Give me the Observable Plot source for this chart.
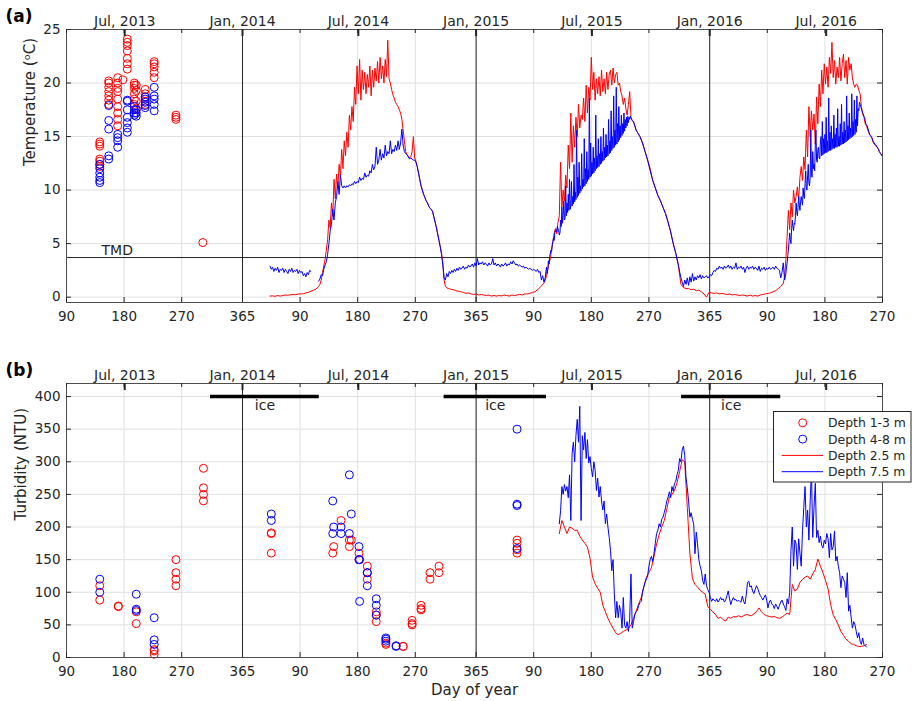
<!DOCTYPE html>
<html><head><meta charset="utf-8">
<script src="https://cdn.jsdelivr.net/npm/d3@7"></script>
<script src="https://cdn.jsdelivr.net/npm/@observablehq/plot@0.6"></script>
<style>
body{margin:0;background:#fff;font-family:"DejaVu Sans",sans-serif;}
#wrap{position:relative;width:913px;height:701px;overflow:hidden;}
#wrap svg{display:block;}
</style></head><body><div id="wrap"></div>
<script>
// ---------- axis ticks (continuous day index: 2013 day d -> d, 2014 -> 365+d, 2015 -> 730+d, 2016 -> 1095+d)
const xTickDays = [90,180,270,365,455,545,635,730,820,910,1000,1095,1185,1275,1365];
const xTickLabels = ["90","180","270","365","90","180","270","365","90","180","270","365","90","180","270"];
const topTickDays = [181,365,546,730,911,1095,1277];
const topTickLabels = ["Jul, 2013","Jan, 2014","Jul, 2014","Jan, 2015","Jul, 2015","Jan, 2016","Jul, 2016"];
const yearStartDays = [365,730,1095];
const tempTicks = [0,5,10,15,20,25];
const turbTicks = [0,50,100,150,200,250,300,350,400];
const tmdTemp = 3.7;
const iceStartDays = [315,680,1051];
const iceEndDays = [485,840,1206];
const iceLevel = 400;
const legendLabels = ["Depth 1-3 m","Depth 4-8 m","Depth 2.5 m","Depth 7.5 m"];

// ---------- panel (a) discrete samples
const tempSampleDays = [142,156,170,178,185,196,199,213,227,261,303];
const tempShallowSamples = [
  [14.5,14.3,14.1,12.9,12.7,12.4,12.2],
  [20.2,20.0,19.6,19.2,18.8,18.4,18.0],
  [20.5,20.0,19.5,19.2,18.5,17.8,17.2,16.6,16.0],
  [20.3],
  [24.1,23.8,23.5,23.0,22.3,21.8,21.3],
  [20.0,19.8,19.5,19.0,18.5,18.0],
  [19.8,19.3,18.3,17.6],
  [19.4,19.0,18.7,18.3,18.0],
  [22.0,21.8,21.5,21.0,20.5],
  [17.0,16.8,16.6],
  [5.1]
];
const tempDeepSamples = [
  [12.4,12.0,11.6,11.2,10.9,10.7],
  [17.9,16.5,15.7,13.2,12.9],
  [15.2,14.9,14.6,14.0],
  [],
  [18.4,18.3,17.5,16.8,16.3,15.8,15.4],
  [17.8,17.5,17.2,17.0],
  [17.5,17.2,16.9],
  [18.7,18.5,18.2,17.9,17.7],
  [19.6,18.8,18.5,18.0,17.4],
  [],
  []
];

// ---------- panel (a) logger series, 2.5 m (shallow)
const tempShallowWinter14 = [0.1,0.12,0.08,0.15,0.1,0.15,0.2,0.18,0.22,0.25,0.22,0.3,0.3,0.32,0.4,0.45,0.55,0.65,0.75,1.0];
const tempShallowSummer14 = [1.2,1.6,2.3,2.9,3.5,4.4,5.4,7.2,6.5,8.8,7.6,11.0,9.2,11.5,10.2,12.4,11.3,13.8,12.0,14.6,13.2,15.4,14.0,17.0,15.6,17.8,16.4,19.6,18.0,21.6,19.0,22.2,18.4,21.2,19.4,21.0,19.0,20.8,19.6,21.6,18.8,21.2,19.6,21.4,20.2,22.0,20.0,22.4,20.4,21.6,20.0,22.2,20.6,24.0,20.4,20.0,19.4,18.9,18.6,18.2,18.0,17.8,17.5,17.2,16.6,15.6,14.6,13.6];
const tempShallowFall14 = [13.3,13.2,13.0,13.1,13.6,15.0,13.0,12.7,12.2,11.6,11.0,10.4,10.0,9.6,9.3,9.0,8.8,8.5,8.3,8.2,8.0,7.5,7.0,6.5,5.9,5.3,4.7,4.1,3.2,1.6];
const tempShallowWinter15 = [1.0,0.8,0.75,0.7,0.6,0.55,0.5,0.45,0.35,0.4,0.3,0.25,0.3,0.2,0.25,0.2,0.15,0.2,0.1,0.15,0.1,0.15,0.12,0.2,0.15,0.1,0.2,0.15,0.2,0.25,0.2,0.3,0.3,0.35,0.45,0.5,0.7,0.9,1.2];
const tempShallowSummer15 = [1.3,1.6,2.0,2.6,3.2,3.6,4.4,5.2,6.0,6.4,5.9,7.0,7.6,12.6,8.4,10.0,9.0,11.4,10.2,14.2,12.0,17.2,12.6,16.0,14.0,16.8,15.0,18.0,15.8,17.0,16.6,18.6,16.4,19.8,17.2,19.6,18.4,22.4,19.4,21.0,18.4,20.4,19.0,20.6,18.8,21.2,19.2,20.4,19.0,21.0,19.4,20.8,21.2,19.8,21.4,20.0,20.8,21.0,19.8,20.0,19.2,18.8,18.0,18.6,17.6,17.0,18.0,19.2,16.8,16.5,16.4,16.0,15.6];
const tempShallowFall15 = [15.4,15.0,14.4,13.6,12.8,12.0,10.9,10.2,9.5,9.0,8.4,7.8,7.0,6.1,5.0,4.1,3.0,1.2];
const tempShallowWinter16 = [0.9,0.8,0.8,0.7,0.75,0.6,0.65,0.5,0.3,0.0,0.45,0.4,0.35,0.4,0.3,0.35,0.3,0.25,0.3,0.2,0.25,0.2,0.15,0.2,0.15,0.1,0.2,0.1,0.15,0.1,0.2,0.25,0.3,0.35,0.4,0.5,0.6,0.8,1.0,1.3];
const tempShallowSummer16 = [1.9,3.5,5.7,8.1,6.3,8.8,7.5,10.0,8.8,9.4,10.3,9.1,11.2,12.2,10.9,13.1,11.9,15.6,13.1,17.8,15.0,17.4,15.6,17.1,14.3,18.7,16.2,19.9,17.8,21.2,19.0,21.8,19.9,21.5,19.6,22.4,20.9,23.8,20.5,22.1,19.9,21.5,20.5,22.4,20.2,21.8,22.7,20.5,22.1,19.9,22.4,21.2,21.8,20.5,19.9,19.6,19.9,19.8,19.3,19.0,17.8,17.1,16.8,16.2,16.0,15.6,15.3,15.1,15.0,14.5,14.3,14.2,14.0,13.9,13.6,13.4,13.3];

// ---------- panel (a) logger series, 7.5 m (deep)
const tempDeepWinter14 = [2.9,2.6,2.8,2.4,2.7,2.5,2.8,2.3,2.6,2.5,2.7,2.3,2.6,2.4,2.2,2.6,2.4,2.7,2.3,2.5,2.4,2.6,2.2,2.5,2.3,2.4,2.0,2.2,1.9,2.3,2.1,2.5,2.4];
const tempDeepSummer14 = [1.5,1.7,2.1,2.0,2.6,3.0,3.3,4.0,5.0,6.2,6.8,8.2,7.2,8.8,9.4,10.8,9.6,11.4,10.4,10.2,10.4,10.2,10.4,10.3,10.5,10.4,10.6,10.5,10.8,10.6,10.8,10.7,11.2,10.9,11.1,11.0,11.6,11.2,11.4,11.3,11.8,11.6,12.4,11.9,12.2,14.0,12.4,12.8,13.8,12.8,13.4,13.0,14.2,13.2,13.6,13.4,14.6,13.4,13.8,13.6,14.2,13.7,14.6,13.8,14.4,15.7,14.2,13.6,13.4];
const tempDeepFall14 = [13.3,13.1,12.9,13.0,12.9,12.8,12.8,12.6,12.2,11.6,11.0,10.4,10.0,9.6,9.3,9.0,8.8,8.5,8.3,8.2,8.0,7.5,7.0,6.5,5.9,5.3,4.7,4.0,3.0,1.8];
const tempDeepWinter15 = [1.6,2.2,1.9,2.4,2.2,2.5,2.3,2.6,2.4,2.7,2.5,2.8,2.6,2.7,2.9,2.6,2.8,2.7,3.0,2.8,2.9,3.1,2.8,3.2,2.9,3.6,3.0,3.2,3.1,3.3,3.0,3.2,3.1,2.9,3.2,3.0,3.1,3.6,3.0,3.2,2.9,3.1,3.0,2.8,3.1,2.9,3.0,3.2,2.9,3.1,3.0,3.3,3.1,3.4,3.2,3.0,3.1,2.9,3.0,2.9,2.8,2.9,2.7,2.8,2.7,2.6,2.7,2.6,2.5,2.6,2.5,2.4,2.6,2.3,2.4,1.6,2.0,1.4];
const tempDeepSummer15 = [1.8,2.4,2.8,2.2,2.6,3.4,3.1,3.8,4.1,4.4,4.3,4.9,5.2,5.5,5.3,6.0,6.2,6.3,6.1,6.6,6.4,6.2,5.8,
  6.0,7.2,6.6,8.4,6.9,7.6,9.0,7.2,7.4,10.4,7.6,8.8,7.9,9.6,8.1,11.0,8.2,8.6,10.8,8.5,9.4,8.7,12.4,8.9,9.8,9.1,15.6,9.3,11.2,9.5,12.6,9.7,10.4,9.9,13.4,10.1,11.0,10.3,14.8,10.4,
  12.0,10.6,13.6,10.8,11.9,11.0,18.6,11.2,14.4,11.3,12.6,11.5,14.0,11.6,13.0,11.8,17.0,12.0,13.2,12.1,14.8,12.2,13.4,12.4,15.0,12.5,13.6,12.7,15.8,12.8,14.0,13.0,15.2,13.1,14.2,13.2,16.6,13.4,14.6,13.5,
  17.4,13.7,15.0,13.9,18.8,14.0,15.6,14.2,19.6,14.3,16.2,14.5,17.8,14.7,16.0,14.9,17.0,15.1,16.2,15.3,17.2,15.5,16.6,15.8,16.8,16.0,16.9,16.3,16.8,16.6,16.9,16.7,16.6,16.5,16.4,16.4,16.2,16.0,15.8,15.6];
const tempDeepFall15 = [15.4,15.0,14.4,13.6,12.8,11.8,10.9,10.2,9.5,9.0,8.4,7.8,7.0,6.1,5.0,4.1,3.0,1.8];
const tempDeepWinter16 = [1.0,1.6,1.2,1.8,1.1,1.9,1.4,2.2,1.5,1.9,1.6,2.0,1.8,2.1,1.7,2.0,1.8,1.9,2.0,1.8,1.9,2.1,2.0,2.3,2.5,2.4,2.7,2.6,2.9,2.7,2.8,2.6,2.9,2.7,2.8,3.0,2.7,2.9,2.6,2.8,2.7,3.2,2.6,2.8,2.7,2.9,2.6,2.8,2.3,2.7,2.9,2.6,2.8,2.7,2.9,2.6,2.8,2.7,2.5,2.9,2.4,2.7,2.6,2.8,2.5,2.7,2.6,2.8,2.6,2.7,2.8,2.6,2.9,2.7,2.6,2.5,1.8,2.3,3.2,1.6];
const tempDeepSummer16 = [2.2,2.8,3.2,3.9,4.4,5.2,6.0,5.4,5.0,6.4,7.2,6.6,6.2,6.9,6.8,7.6,8.8,8.0,7.6,8.4,9.4,8.6,8.1,8.9,9.4,9.0,8.6,
  10.2,9.4,9.2,10.6,11.8,10.2,10.0,11.4,12.4,10.6,10.4,11.2,15.6,11.4,11.2,13.6,12.0,12.4,11.8,14.2,15.6,12.8,12.6,13.8,14.0,13.0,12.9,14.6,15.0,13.2,
  16.4,13.3,14.8,13.4,15.2,13.5,16.8,13.5,14.6,13.6,18.6,13.7,15.4,13.7,16.0,13.8,14.8,13.9,17.0,13.9,15.2,14.0,15.8,14.0,17.6,14.1,15.0,14.1,16.2,14.2,18.0,14.3,15.4,14.3,16.4,14.4,15.6,14.5,18.8,14.6,16.0,14.7,17.2,14.8,15.8,14.9,19.0,15.0,16.4,15.1,18.4,15.2,16.6,15.4,18.8,16.0,17.6,17.4,18.2,18.0,
  17.8,17.6,17.4,17.2,17.1,16.9,16.8,16.5,16.2,16.1,16.0,15.8,15.6,15.4,15.2,15.1,15.0,14.9,14.8,14.6,14.5,14.4,14.3,14.2,14.2,14.1,14.0,13.9,13.8,13.6,13.5,13.4,13.3,13.2];

// ---------- panel (b) discrete samples
const turbSampleDays = [142,171,199,227,261,304,410,506,507.5,519,532,535,547,548,560,574,589,605,616,630,644,658,672,794];
const turbShallowSamples = [
  [110,88],[78,79],[70,52],[10,5,12],[150,130,120,110],[290,260,250,240],
  [190,191,160],[160],[170],[210],[180,170],[180],[160,150],[],[140,120],
  [70,65,55],[22,20],[],[17,17],[57,52,50],[80,75,73],[130,120],[140,130],
  [180,175,165,160]
];
const turbDeepSamples = [
  [120,100],[],[97,74,72],[61,27,20],[],[],
  [220,210],[240,190],[200],[200,190],[280,190],[220],[170,150],[86,150],[130,130,110],
  [90,80,65],[30,28,25],[18,17],[],[],[],[],[],
  [350,235,233,167]
];

// ---------- panel (b) logger series
const turbShallowStart = 860, turbShallowStep = 4;
const turbShallow = [190,210,200,190,200,198,195,195,186,180,175,169,152,123,113,106,100,80,70,60,52,45,38,35,37,40,42,44,50,60,71,82,92,108,123,130,138,155,174,188,200,210,228,246,250,256,268,285,303,300,230,160,121,112,108,103,100,97,78,74,70,66,60,62,58,56,62,60,63,62,64,62,64,66,65,64,67,70,76,70,66,64,63,62,63,61,60,62,65,68,66,112,102,105,115,120,123,125,120,128,135,151,140,130,118,105,81,65,58,50,40,34,28,25,21,20,18,17,17,18,20];
const turbDeepStart = 860, turbDeepStep = 2;
const turbDeep = [205,225,262,250,265,255,262,245,280,210,313,330,300,340,365,330,385,210,340,318,345,305,334,298,308,290,277,300,287,256,275,246,262,240,226,240,205,220,200,184,164,133,150,97,61,86,61,80,70,45,92,50,45,55,40,60,128,45,55,66,70,72,80,84,86,100,108,115,120,125,140,150,155,147,160,175,190,195,205,200,212,215,222,230,240,246,254,245,262,255,267,270,280,287,305,300,318,324,310,275,260,240,215,222,212,205,159,192,175,150,140,133,118,112,128,110,104,100,92,86,90,88,86,90,85,88,92,88,90,85,88,95,102,90,81,88,92,88,89,86,88,86,85,94,86,82,95,115,117,108,110,102,98,104,110,106,100,95,92,88,92,96,88,76,85,88,82,80,75,82,78,74,80,85,88,82,78,72,90,82,100,164,200,140,180,174,135,182,160,140,195,230,262,200,226,180,240,287,184,230,267,184,195,176,186,172,168,180,174,190,182,153,190,165,170,194,148,155,140,130,107,125,120,115,92,130,71,80,62,45,55,50,40,30,38,25,20,30,20,18,16];

// ---------- build rows
function addSeg(rows, start, step, values, piece) {
  values.forEach((v, i) => rows.push({day: start + i * step, value: v, piece}));
}
const tempShallowRows = [];
addSeg(tempShallowRows, 408, 4, tempShallowWinter14, 0);
addSeg(tempShallowRows, 486, 2, tempShallowSummer14, 0);
addSeg(tempShallowRows, 622, 2, tempShallowFall14, 0);
addSeg(tempShallowRows, 682, 4, tempShallowWinter15, 0);
addSeg(tempShallowRows, 836, 2, tempShallowSummer15, 0);
addSeg(tempShallowRows, 982, 4, tempShallowFall15, 0);
addSeg(tempShallowRows, 1054, 4, tempShallowWinter16, 0);
addSeg(tempShallowRows, 1212, 2, tempShallowSummer16, 0);
const tempDeepRows = [];
addSeg(tempDeepRows, 408, 2, tempDeepWinter14, 0);
addSeg(tempDeepRows, 484, 2, tempDeepSummer14, 1);
addSeg(tempDeepRows, 622, 2, tempDeepFall14, 1);
addSeg(tempDeepRows, 682, 2, tempDeepWinter15, 1);
addSeg(tempDeepRows, 838, 1, tempDeepSummer15, 1);
addSeg(tempDeepRows, 982, 4, tempDeepFall15, 1);
addSeg(tempDeepRows, 1054, 2, tempDeepWinter16, 1);
addSeg(tempDeepRows, 1214, 1, tempDeepSummer16, 1);
const turbShallowRows = [], turbDeepRows = [];
addSeg(turbShallowRows, turbShallowStart, turbShallowStep, turbShallow, 0);
addSeg(turbDeepRows, turbDeepStart, turbDeepStep, turbDeep, 0);

function flatSamples(days, groups) {
  const out = [];
  groups.forEach((g, i) => g.forEach(v => out.push({day: days[i], value: v})));
  return out;
}
const tempShallowDots = flatSamples(tempSampleDays, tempShallowSamples);
const tempDeepDots = flatSamples(tempSampleDays, tempDeepSamples);
const turbShallowDots = flatSamples(turbSampleDays, turbShallowSamples);
const turbDeepDots = flatSamples(turbSampleDays, turbDeepSamples);
const iceRows = iceStartDays.map((s, i) => ({start: s, end: iceEndDays[i], level: iceLevel}));

// ---------- styling
const RED = "#ff0000", BLUE = "#0000ff", INK = "#262626", GRID = "#e1e1e1", FRAME = "#4d4d4d";
const W = 913, ML = 66, MR = 31;
const innerW = W - ML - MR;
const FONT = "'DejaVu Sans', sans-serif";

function commonMarks(innerH, yTicks, yLabel, yLabelDx, panelTag) {
  return {
    under: [
      Plot.gridX(xTickDays, {x: d => d, stroke: GRID, strokeOpacity: 1}),
      Plot.gridY(yTicks, {y: d => d, stroke: GRID, strokeOpacity: 1}),
      Plot.ruleX(yearStartDays, {x: d => d, stroke: INK, strokeWidth: 1})
    ],
    over: [
      Plot.frame({stroke: FRAME, strokeWidth: 1}),
      Plot.tickX(xTickDays, {x: d => d, stroke: INK, insetTop: innerH - 5}),
      Plot.tickX(xTickDays, {x: d => d, stroke: INK, insetBottom: innerH - 4}),
      Plot.tickX(topTickDays, {x: d => d, stroke: INK, strokeWidth: 2, insetBottom: innerH - 7}),
      Plot.tickY(yTicks, {y: d => d, stroke: INK, insetRight: innerW - 5}),
      Plot.tickY(yTicks, {y: d => d, stroke: INK, insetLeft: innerW - 5}),
      Plot.axisX({anchor: "bottom", ticks: xTickDays, tickFormat: d => xTickLabels[xTickDays.indexOf(d)], tickSize: 0, tickPadding: 9.4, fontSize: 13.5, fill: INK, label: null}),
      Plot.axisX({anchor: "top", ticks: topTickDays, tickFormat: d => topTickLabels[topTickDays.indexOf(d)], tickSize: 0, tickPadding: 3.2, fontSize: 14, fill: INK, label: null}),
      Plot.axisY({anchor: "left", ticks: yTicks, tickSize: 0, tickPadding: 6, fontSize: 13.5, fill: INK, label: null}),
      Plot.text([yLabel], {text: d => d, frameAnchor: "left", dx: yLabelDx, rotate: -90, fontSize: 15, fill: INK, lineAnchor: "middle"}),
      Plot.text([panelTag], {text: d => d, frameAnchor: "top-left", dx: -61, dy: -12.5, textAnchor: "start", lineAnchor: "middle", fontSize: 17, fontWeight: "bold", fill: "#000"})
    ]
  };
}

// ---------- panel (a)
const hA = 330, mtA = 29, mbA = 28;
const cA = commonMarks(hA - mtA - mbA, tempTicks, "Temperature (ᵒC)", -36, "(a)");
const plotA = Plot.plot({
  width: W, height: hA,
  marginLeft: ML, marginRight: MR, marginTop: mtA, marginBottom: mbA,
  x: {domain: [90, 1365]},
  y: {domain: [-0.5, 25]},
  style: {fontFamily: FONT, background: "white", overflow: "visible"},
  marks: [
    ...cA.under,
    Plot.ruleY([tmdTemp], {y: d => d, stroke: INK, strokeWidth: 1}),
    Plot.text([tmdTemp], {y: d => d, text: () => "TMD", frameAnchor: "left", dx: 35, dy: -3, textAnchor: "start", lineAnchor: "bottom", fontSize: 14, fill: INK}),
    Plot.line(tempShallowRows, {x: "day", y: "value", z: "piece", stroke: RED, strokeWidth: 1}),
    Plot.line(tempDeepRows, {x: "day", y: "value", z: "piece", stroke: BLUE, strokeWidth: 1}),
    Plot.dot(tempShallowDots, {x: "day", y: "value", r: 4, stroke: RED, fill: "none", strokeWidth: 1}),
    Plot.dot(tempDeepDots, {x: "day", y: "value", r: 4, stroke: BLUE, fill: "none", strokeWidth: 1}),
    ...cA.over
  ]
});

// ---------- panel (b)
const hB = 371, mtB = 53, mbB = 44;
const cB = commonMarks(hB - mtB - mbB, turbTicks, "Turbidity (NTU)", -45, "(b)");
const plotB = Plot.plot({
  width: W, height: hB,
  marginLeft: ML, marginRight: MR, marginTop: mtB, marginBottom: mbB,
  x: {domain: [90, 1365]},
  y: {domain: [0, 420]},
  style: {fontFamily: FONT, background: "white", overflow: "visible"},
  marks: [
    ...cB.under,
    Plot.ruleY(iceRows, {y: "level", x1: "start", x2: "end", stroke: "#000", strokeWidth: 3.5}),
    Plot.text(iceRows, {x: d => (d.start + d.end) / 2, y: "level", text: () => "ice", dy: 3, lineAnchor: "top", fontSize: 14, fill: INK}),
    Plot.line(turbShallowRows, {x: "day", y: "value", stroke: RED, strokeWidth: 1}),
    Plot.line(turbDeepRows, {x: "day", y: "value", stroke: BLUE, strokeWidth: 1}),
    Plot.dot(turbShallowDots, {x: "day", y: "value", r: 4, stroke: RED, fill: "none", strokeWidth: 1}),
    Plot.dot(turbDeepDots, {x: "day", y: "value", r: 4, stroke: BLUE, fill: "none", strokeWidth: 1}),
    ...cB.over,
    Plot.text(["Day of year"], {text: d => d, frameAnchor: "bottom", dy: 37.5, lineAnchor: "bottom", fontSize: 15, fill: INK})
  ]
});

const wrap = document.getElementById("wrap");
plotA.style.position = "absolute"; plotA.style.left = "0px"; plotA.style.top = "0px";
plotB.style.position = "absolute"; plotB.style.left = "0px"; plotB.style.top = "330px";
wrap.appendChild(plotA);
wrap.appendChild(plotB);

// ---------- legend overlay for panel (b)
const ov = d3.select(wrap).append("svg")
  .attr("width", W).attr("height", 701)
  .style("position", "absolute").style("left", "0px").style("top", "0px")
  .style("pointer-events", "none");
const lg = ov.append("g").attr("font-family", FONT).attr("font-size", 12.4).attr("fill", INK);
lg.append("rect").attr("x", 773.5).attr("y", 411.5).attr("width", 137.5).attr("height", 70.5)
  .attr("fill", "white").attr("stroke", INK).attr("stroke-width", 1);
const legendColors = [RED, BLUE, RED, BLUE];
legendLabels.forEach((lab, i) => {
  const yy = 422.8 + i * 16.3;
  if (i < 2) {
    lg.append("circle").attr("cx", 802.7).attr("cy", yy).attr("r", 4)
      .attr("fill", "none").attr("stroke", legendColors[i]).attr("stroke-width", 1);
  } else {
    lg.append("line").attr("x1", 781.7).attr("x2", 823).attr("y1", yy).attr("y2", yy)
      .attr("stroke", legendColors[i]).attr("stroke-width", 1);
  }
  lg.append("text").attr("x", 828).attr("y", yy).attr("dy", "0.36em").text(lab);
});
</script></body></html>
